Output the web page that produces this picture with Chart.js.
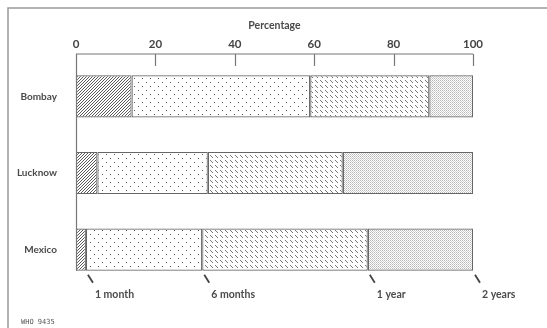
<!DOCTYPE html>
<html>
<head>
<meta charset="utf-8">
<script src="https://cdn.jsdelivr.net/npm/chart.js@4"></script>
<style>
  body { margin: 0; background: #fff; }
  canvas { display: block; }
</style>
</head>
<body>
<canvas id="chart" width="547" height="328"></canvas>
<script>
// data
const cities = ['Bombay', 'Lucknow', 'Mexico'];
const underOneMonth = [14, 5.4, 2.5];
const oneToSixMonths = [45, 27.8, 29.3];
const sixToTwelveMonths = [30, 34, 41.7];
const oneToTwoYears = [11, 32.8, 26.5];
const percentTicks = [0, 20, 40, 60, 80, 100];
const durationMarks = ['1 month', '6 months', '1 year', '2 years'];

const ink = '#4a4a4a';
const lineGrey = '#777';

// fill patterns, drawn pixel by pixel on small tiles
function makePattern(size, paint) {
    const c = document.createElement('canvas');
    c.width = size; c.height = size;
    const g = c.getContext('2d');
    g.fillStyle = '#fff';
    g.fillRect(0, 0, size, size);
    for (let y = 0; y < size; y++) {
        for (let x = 0; x < size; x++) {
            const col = paint(x, y);
            if (col) { g.fillStyle = col; g.fillRect(x, y, 1, 1); }
        }
    }
    return document.getElementById('chart').getContext('2d').createPattern(c, 'repeat');
}

const hatch = makePattern(3, (x, y) => ((x + y) % 3 === 0 ? '#5a5a5a' : null));
const dots = makePattern(8, (x, y) => ((x === 2 && y === 2) || (x === 6 && y === 6) ? '#555' : null));
const dashes = makePattern(10, (x, y) => ((x - y + 10) % 5 === 0 && y % 5 < 3 ? '#777' : null));
const stipple = makePattern(4, (x, y) => ((x + y) % 2 === 0 ? ((x % 2 === 0) ? '#b8b8b8' : '#d0d0d0') : null));

const frameAndAxes = {
    id: 'frameAndAxes',
    afterDatasetsDraw(chart) {
        const ctx = chart.ctx;
        const xs = chart.scales.x;
        const area = chart.chartArea;
        const axisY = area.top - 4;
        const last = chart.getDatasetMeta(0).data[cities.length - 1];
        const barBottom = last.y + last.height / 2;

        ctx.save();
        // outer frame (top and left only)
        ctx.strokeStyle = '#999';
        ctx.lineWidth = 1.5;
        ctx.beginPath();
        ctx.moveTo(8, 328);
        ctx.lineTo(8, 8);
        ctx.lineTo(547, 8);
        ctx.stroke();

        // percentage axis
        ctx.strokeStyle = lineGrey;
        ctx.lineWidth = 1.2;
        ctx.beginPath();
        ctx.moveTo(xs.getPixelForValue(0), axisY);
        ctx.lineTo(xs.getPixelForValue(100), axisY);
        percentTicks.forEach(v => {
            if (v === 0) return;
            const px = Math.round(xs.getPixelForValue(v)) + 0.5;
            ctx.moveTo(px, axisY);
            ctx.lineTo(px, axisY + 12);
        });
        const x0 = Math.round(xs.getPixelForValue(0)) + 0.5;
        ctx.moveTo(x0, axisY);
        ctx.lineTo(x0, barBottom);
        ctx.stroke();

        // duration marks under the last bar
        const row = cities.length - 1;
        let cum = 0;
        ctx.font = 'bold 10.5px Lato';
        ctx.fillStyle = ink;
        ctx.textAlign = 'left';
        ctx.textBaseline = 'middle';
        chart.data.datasets.forEach((ds, i) => {
            cum += ds.data[row];
            const px = xs.getPixelForValue(cum);
            ctx.strokeStyle = '#444';
            ctx.lineWidth = 1.8;
            ctx.beginPath();
            ctx.moveTo(px + 2, barBottom + 4);
            ctx.lineTo(px + 7, barBottom + 12);
            ctx.stroke();
            ctx.fillText(durationMarks[i], px + 9, barBottom + 24);
        });

        ctx.font = '7px "DejaVu Sans Mono"';
        ctx.fillStyle = '#555';
        ctx.fillText('WHO 9435', 21, 322);
        ctx.restore();
    }
};

const common = { borderColor: '#666', borderWidth: 1.2, borderSkipped: false };

let ctx = document.getElementById('chart').getContext('2d');
let chart = new Chart(ctx, {
    type: 'bar',
    data: {
        labels: cities,
        datasets: [
            { label: 'Under 1 month', data: underOneMonth, backgroundColor: hatch, ...common },
            { label: '1-6 months', data: oneToSixMonths, backgroundColor: dots, ...common },
            { label: '6 months - 1 year', data: sixToTwelveMonths, backgroundColor: dashes, ...common },
            { label: '1-2 years', data: oneToTwoYears, backgroundColor: stipple, ...common }
        ]
    },
    options: {
        indexAxis: 'y',
        responsive: false,
        animation: false,
        layout: { padding: { left: 0, right: 74, top: 0, bottom: 40 } },
        datasets: { bar: { categoryPercentage: 1, barPercentage: 0.55 } },
        plugins: { legend: { display: false }, tooltip: { enabled: false } },
        scales: {
            x: {
                position: 'top',
                stacked: true,
                min: 0,
                max: 100,
                afterBuildTicks: s => { s.ticks = percentTicks.map(v => ({ value: v })); },
                afterFit: s => { s.height = 58; },
                grid: { display: false, drawTicks: false },
                border: { display: false },
                ticks: { color: '#444', padding: 7, font: { family: 'Lato', size: 11.5, weight: 'bold' } },
                title: {
                    display: true,
                    text: 'Percentage',
                    color: ink,
                    padding: { top: 19, bottom: 0 },
                    font: { family: 'Lato', size: 10.5, weight: 'bold' }
                }
            },
            y: {
                stacked: true,
                afterFit: s => { s.width = 76; },
                grid: { display: false },
                border: { display: false },
                ticks: { color: ink, padding: 11, font: { family: 'Lato', size: 10, weight: 'bold' } }
            }
        }
    },
    plugins: [frameAndAxes]
});
</script>
</body>
</html>
